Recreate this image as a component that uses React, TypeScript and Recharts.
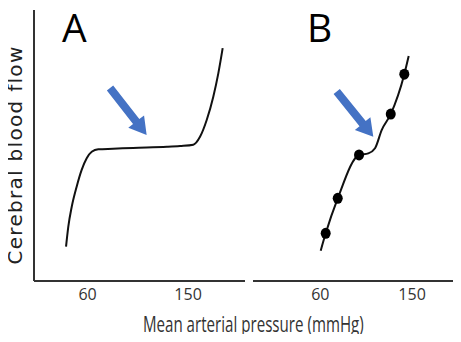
import React from "react";
import { LineChart, Line, XAxis, YAxis, ReferenceLine } from "recharts";

// Panel A: classic autoregulation curve (plateau)
const aPressure = [40.7, 42.7, 45.8, 50.2, 54.7, 59.2, 63.7, 69.6, 82.8, 100.7, 131.1, 142.8, 154.7, 160.7, 166.7, 172.6, 177.1, 181];
const aFlow = [12.7, 20.0, 27.4, 34.8, 41.0, 45.3, 47.7, 48.6, 48.8, 49.1, 49.5, 49.8, 50.3, 53.2, 59.4, 68.0, 76.6, 85.9];

// Panel B: measured points with a short plateau
const bPressure = [60.4, 65.3, 77.1, 98.0, 107.1, 113.7, 120.2, 129.1, 142.4, 146.7];
const bFlow = [11.2, 17.6, 30.5, 46.5, 47.1, 49.0, 55.7, 61.6, 76.3, 83.0];
const bMarked = [false, true, true, true, false, false, false, true, true, false];

const xTicks = [60, 150];
const aDomain = [12, 201];
const bDomain = [-6, 198];

// arrow annotations: [start, tip]
const aArrowX = [80.1, 112.9];
const aArrowY = [71.2, 53.9];
const bArrowX = [76.1, 112.0];
const bArrowY = [69.9, 53.2];

const aData = aPressure.map((p, i) => ({ pressure: p, flow: aFlow[i] }));
const bData = bPressure.map((p, i) => ({ pressure: p, flow: bFlow[i], marked: bMarked[i] }));

const BLUE = "#4472C4";
const tickFont = "'Open Sans', 'Liberation Sans', sans-serif";

// draws a block arrow from (x1,y1) to the tip at (x2,y2)
const Arrow = (props: any) => {
  const { x1, y1, x2, y2 } = props;
  if ([x1, y1, x2, y2].some((v) => v == null || isNaN(v))) return null;
  const dx = x2 - x1;
  const dy = y2 - y1;
  const len = Math.sqrt(dx * dx + dy * dy);
  const ux = dx / len;
  const uy = dy / len;
  const nx = -uy;
  const ny = ux;
  const headLen = 17;
  const shaft = 4;
  const head = 10;
  const bx = x2 - ux * headLen;
  const by = y2 - uy * headLen;
  const pts = [
    [x1 + nx * shaft, y1 + ny * shaft],
    [bx + nx * shaft, by + ny * shaft],
    [bx + nx * head, by + ny * head],
    [x2, y2],
    [bx - nx * head, by - ny * head],
    [bx - nx * shaft, by - ny * shaft],
    [x1 - nx * shaft, y1 - ny * shaft],
  ];
  return <polygon points={pts.map((p) => p.join(",")).join(" ")} fill={BLUE} />;
};

const MarkedDot = (props: any) => {
  const { cx, cy, payload, index } = props;
  if (!payload || !payload.marked) return <g key={index} />;
  return <ellipse key={index} cx={cx} cy={cy} rx={5} ry={5.5} fill="#000" />;
};

const axisTick = { fontSize: 16, fill: "#333", fontFamily: tickFont };

export default function App() {
  return (
    <div
      style={{
        position: "relative",
        width: 461,
        height: 342,
        margin: -8,
        overflow: "hidden",
        background: "#fff",
      }}
    >
      {/* faint frame line at the top */}
      <div style={{ position: "absolute", left: 8, top: 6, width: 453, height: 1, background: "#ddd" }} />

      <div style={{ position: "absolute", left: 0, top: 0 }}>
        <LineChart width={250} height={342} data={aData} margin={{ top: 10, right: 5, left: 34, bottom: 0 }}>
          <XAxis
            dataKey="pressure"
            type="number"
            domain={aDomain}
            ticks={xTicks}
            height={61}
            tickLine={false}
            axisLine={{ stroke: "#333", strokeWidth: 2 }}
            tick={axisTick}
          />
          <YAxis hide domain={[0, 100]} />
          <ReferenceLine x={aDomain[0]} stroke="#333" strokeWidth={2} />
          <Line
            dataKey="flow"
            type="monotone"
            stroke="#111"
            strokeWidth={2}
            dot={false}
            isAnimationActive={false}
          />
          <ReferenceLine
            segment={[
              { x: aArrowX[0], y: aArrowY[0] },
              { x: aArrowX[1], y: aArrowY[1] },
            ]}
            shape={Arrow}
          />
        </LineChart>
      </div>

      <div style={{ position: "absolute", left: 250, top: 0 }}>
        <LineChart width={211} height={342} data={bData} margin={{ top: 10, right: 0, left: 3, bottom: 0 }}>
          <XAxis
            dataKey="pressure"
            type="number"
            domain={bDomain}
            ticks={xTicks}
            height={61}
            tickLine={false}
            axisLine={{ stroke: "#333", strokeWidth: 2 }}
            tick={axisTick}
          />
          <YAxis hide domain={[0, 100]} />
          <Line
            dataKey="flow"
            type="monotone"
            stroke="#111"
            strokeWidth={2}
            dot={<MarkedDot />}
            isAnimationActive={false}
          />
          <ReferenceLine
            segment={[
              { x: bArrowX[0], y: bArrowY[0] },
              { x: bArrowX[1], y: bArrowY[1] },
            ]}
            shape={Arrow}
          />
        </LineChart>
      </div>

      {/* panel letters */}
      <div style={{ position: "absolute", left: 62, top: 4, fontSize: 39, fontFamily: "'Open Sans', sans-serif", color: "#000", lineHeight: "46px" }}>
        A
      </div>
      <div style={{ position: "absolute", left: 307, top: 4, fontSize: 39, fontFamily: "'Open Sans', sans-serif", color: "#000", lineHeight: "46px" }}>
        B
      </div>

      {/* y axis title */}
      <div
        style={{
          position: "absolute",
          left: 15,
          top: 155,
          transform: "translate(-50%, -50%) rotate(-90deg)",
          whiteSpace: "nowrap",
          fontSize: 20,
          letterSpacing: 1.3,
          lineHeight: "22px",
          fontFamily: "'DejaVu Sans', sans-serif",
          color: "#222",
        }}
      >
        Cerebral blood flow
      </div>

      {/* x axis title */}
      <div
        style={{
          position: "absolute",
          left: 0,
          width: 506,
          top: 312,
          lineHeight: "24px",
          textAlign: "center",
          whiteSpace: "nowrap",
          fontSize: 21,
          fontFamily: tickFont,
          color: "#333",
        }}
      >
        <span style={{ display: "inline-block", transform: "scaleX(0.72)" }}>Mean arterial pressure (mmHg)</span>
      </div>
    </div>
  );
}
